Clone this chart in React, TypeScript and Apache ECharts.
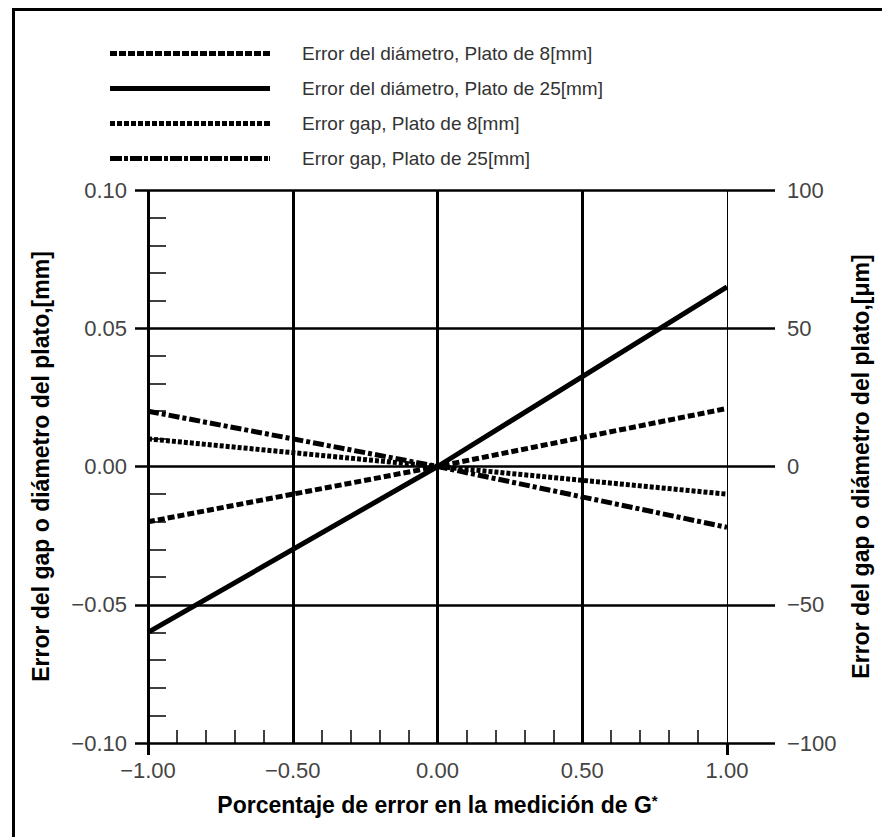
import React, { useEffect, useRef } from "react";
import * as echarts from "echarts";

const xValues = [-1, 0, 1];
const diam8 = [-0.02, 0, 0.021];
const diam25 = [-0.06, 0, 0.065];
const gap8 = [0.01, 0, -0.01];
const gap25 = [0.02, 0, -0.022];
const seriesNames = [
  "Error del diámetro, Plato de 8[mm]",
  "Error del diámetro, Plato de 25[mm]",
  "Error gap, Plato de 8[mm]",
  "Error gap, Plato de 25[mm]",
];
const xTitle = "Porcentaje de error en la medición de G{s|*}";
const yLeftTitle = "Error del gap o diámetro del plato,[mm]";
const yRightTitle = "Error del gap o diámetro del plato,[μm]";

const MINUS = "\u2212";
const fmt = (d: number) => (v: number) =>
  (v < -1e-9 ? MINUS : "") + Math.abs(v).toFixed(d);

const FONT = "Liberation Sans, Arial, sans-serif";

// legend icon built from a dash pattern (styling only)
const ICON_W = 160;
const ICON_H = 5;
function dashIcon(pattern: number[]): string {
  let x = 0;
  let i = 0;
  const parts: string[] = [];
  while (x < ICON_W) {
    const len = pattern[i % pattern.length];
    if (i % 2 === 0) {
      const w = Math.min(len, ICON_W - x);
      parts.push(`M${x},0h${w}v${ICON_H}h${-w}z`);
    }
    x += len;
    i++;
  }
  parts.push(`M${ICON_W - 1},0h1v${ICON_H}h-1z`);
  return "path://" + parts.join(" ");
}

export default function App() {
  const ref = useRef<HTMLDivElement>(null);
  useEffect(() => {
    if (!ref.current) return;
    const chart = echarts.init(ref.current, null, { renderer: "svg" });
    const pts = (ys: number[]) => xValues.map((x, i) => [x, ys[i]]);
    const mk = (name: string, ys: number[], type: any, width: number) => ({
      name,
      type: "line",
      xAxisIndex: 0,
      yAxisIndex: 0,
      data: pts(ys),
      symbol: "none",
      z: 5,
      lineStyle: { color: "#000", width, type },
      itemStyle: { color: "#000" },
    });
    const legendPatterns = [[7, 2], [ICON_W], [5, 2], [12, 2, 4, 2]];
    chart.setOption({
      animation: false,
      color: ["#000"],
      textStyle: { fontFamily: FONT },
      graphic: [
        { type: "line", shape: { x1: 12, y1: 9.5, x2: 882, y2: 9.5 }, style: { stroke: "#000", lineWidth: 3 } },
        { type: "line", shape: { x1: 13.5, y1: 8, x2: 13.5, y2: 837 }, style: { stroke: "#000", lineWidth: 3 } },
      ],
      legend: {
        data: seriesNames.map((n, i) => ({ name: n, icon: dashIcon(legendPatterns[i]) })),
        orient: "vertical",
        left: 105,
        top: 39,
        itemWidth: ICON_W,
        itemHeight: ICON_H,
        itemGap: 16,
        selectedMode: false,
        itemStyle: { color: "#000" },
        textStyle: { fontSize: 19, color: "#333", padding: [0, 0, 0, 27], fontFamily: FONT },
      },
      grid: [
        { left: 148, top: 190, width: 579, height: 553 },
        { left: 135, top: 190, width: 640, height: 553 },
      ],
      xAxis: [
        {
          gridIndex: 0,
          type: "value",
          min: -1,
          max: 1,
          interval: 0.5,
          position: "bottom",
          axisLine: { show: false, onZero: false },
          axisTick: { show: false, inside: true },
          minorTick: { show: true, splitNumber: 5, length: 13, lineStyle: { color: "#000", width: 1.5 } },
          splitLine: { show: true, showMaxLine: false, lineStyle: { color: "#000", width: 3 } },
          axisLabel: { formatter: fmt(2), fontSize: 22, color: "#444", margin: 16, fontFamily: FONT },
          name: xTitle,
          nameLocation: "middle",
          nameGap: 50,
          nameTextStyle: {
            fontSize: 23,
            fontWeight: "bold",
            color: "#000",
            fontFamily: FONT,
            rich: { s: { fontSize: 15, fontWeight: "bold", color: "#000", fontFamily: FONT, padding: [0, 0, 8, 0] } },
          },
        },
        {
          gridIndex: 0,
          type: "value",
          min: -1,
          max: 1,
          interval: 2,
          position: "bottom",
          axisLine: { show: false, onZero: false },
          axisTick: { show: true, length: 12, lineStyle: { color: "#000", width: 3 } },
          axisLabel: { show: false },
          splitLine: { show: true, showMinLine: false, lineStyle: { color: "#000", width: 1 } },
        },
        { gridIndex: 1, type: "value", min: -1, max: 1, show: false },
      ],
      yAxis: [
        {
          gridIndex: 0,
          type: "value",
          min: -0.1,
          max: 0.1,
          interval: 0.05,
          position: "left",
          axisLine: { show: false, onZero: false },
          axisTick: { show: false, inside: true },
          minorTick: { show: true, splitNumber: 5, length: 18, lineStyle: { color: "#000", width: 1.5 } },
          splitLine: { show: false },
          axisLabel: { formatter: fmt(2), fontSize: 22, color: "#444", margin: 21, fontFamily: FONT },
          name: yLeftTitle,
          nameLocation: "middle",
          nameRotate: 90,
          nameGap: 96,
          nameTextStyle: { fontSize: 23, fontWeight: "bold", color: "#000", fontFamily: FONT },
        },
        {
          gridIndex: 1,
          type: "value",
          min: -100,
          max: 100,
          interval: 50,
          position: "right",
          axisLine: { show: false, onZero: false },
          axisTick: { show: false },
          splitLine: { show: true, lineStyle: { color: "#000", width: 2.5 } },
          axisLabel: { formatter: fmt(0), fontSize: 22, color: "#444", margin: 12, fontFamily: FONT },
          name: yRightTitle,
          nameLocation: "middle",
          nameRotate: 90,
          nameGap: 74,
          nameTextStyle: { fontSize: 23, fontWeight: "bold", color: "#000", fontFamily: FONT },
        },
      ],
      series: [
        mk(seriesNames[0], diam8, [7, 3], 5),
        mk(seriesNames[1], diam25, "solid", 5),
        mk(seriesNames[2], gap8, [4, 2], 5),
        mk(seriesNames[3], gap25, [11, 3, 4, 3], 5),
      ],
    });
    return () => chart.dispose();
  }, []);
  return (
    <div
      ref={ref}
      style={{ position: "fixed", left: 0, top: 0, width: 882, height: 837, background: "#fff" }}
    />
  );
}
